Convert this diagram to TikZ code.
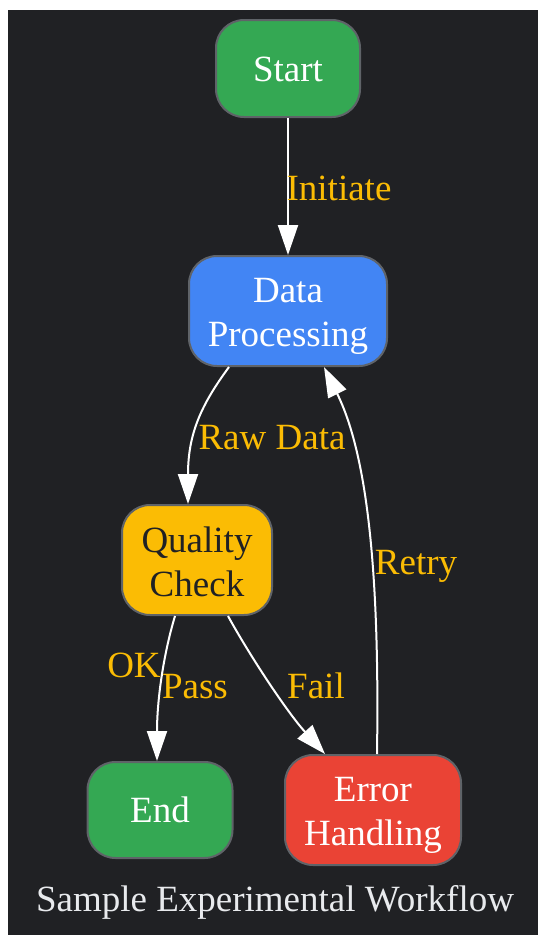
\documentclass[tikz,border=0pt]{standalone}
\usepackage{fontspec}
\setmainfont{Liberation Serif}
\usetikzlibrary{arrows.meta}
\definecolor{bg}{HTML}{202124}
\definecolor{bordergray}{HTML}{5F6368}
\definecolor{ggreen}{HTML}{34A853}
\definecolor{gblue}{HTML}{4285F4}
\definecolor{gyellow}{HTML}{FBBC04}
\definecolor{gred}{HTML}{EA4335}
\definecolor{titlegray}{HTML}{E8EAED}
\newcommand{\twoline}[3]{\raisebox{#1}[\height][\depth]{\begin{tabular}{@{}c@{}}#2\\#3\end{tabular}}}
\tikzset{
  box/.style={draw=bordergray, line width=2pt, rounded corners=28pt,
    font=\fontsize{37}{44}\selectfont, text=white, inner sep=0pt},
  edge/.style={draw=white, line width=2pt, -{Triangle[width=20pt,length=30pt]}},
  elabel/.style={text=gyellow, font=\fontsize{37}{44}\selectfont, inner sep=0pt},
}
\begin{document}
\begin{tikzpicture}[x=1pt,y=-1pt]
\useasboundingbox (0,0) rectangle (538,935);
\fill[white] (0,0) rectangle (538,935);
\fill[bg] (8,10) rectangle (538,935);

\node[box, fill=ggreen, minimum width=144pt, minimum height=97pt] (start) at (288,68.5) {\raisebox{-1pt}[\height][\depth]{Start}};
\node[box, fill=gblue, minimum width=198pt, minimum height=110pt] (dp) at (288,311) {\twoline{-5pt}{Data}{Processing}};
\node[box, fill=gyellow, text=bg, minimum width=150pt, minimum height=110pt] (qc) at (197,560) {\twoline{-6pt}{Quality}{Check}};
\node[box, fill=ggreen, minimum width=145pt, minimum height=96pt] (end) at (160,810) {End};
\node[box, fill=gred, minimum width=176pt, minimum height=110pt] (err) at (373,810) {\twoline{-4.5pt}{Error}{Handling}};

\draw[edge] (start.south) -- (dp.north);
\draw[edge] ([xshift=-59pt]dp.south) .. controls +(-28,38) and +(0,-70) .. ([xshift=-9pt]qc.north);
\draw[edge] ([xshift=-22pt]qc.south) .. controls +(-12,40) and +(0,-60) .. ([xshift=-3pt]end.north);
\draw[edge] ([xshift=31pt]qc.south) .. controls +(22,40) and +(-38,-42) .. ([xshift=-48pt]err.north);
\draw[edge] ([xshift=4pt]err.north) .. controls +(3,-195) and +(41,83) .. ([xshift=36pt]dp.south);

\node[elabel] (lInit) at (339,188) {Initiate};
\node[elabel] (lRaw) at (272,438) {Raw Data};
\node[elabel] (lOK) at (134,665) {OK};
\node[elabel] (lPass) at (195,687) {Pass};
\node[elabel] (lFail) at (316,686) {Fail};
\node[elabel] (lRetry) at (416,566) {Retry};

\node[text=titlegray, font=\fontsize{37}{44}\selectfont, inner sep=0pt] (title) at (275,902) {Sample Experimental Workflow};
\end{tikzpicture}
\end{document}
